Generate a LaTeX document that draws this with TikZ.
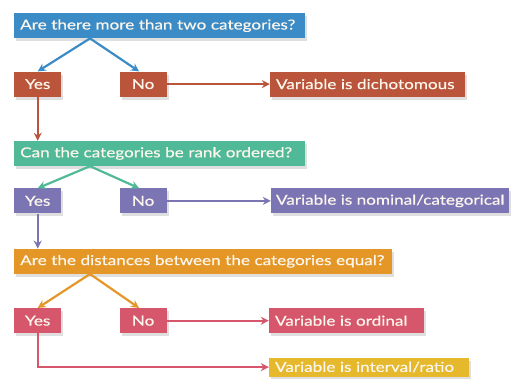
\documentclass[tikz,border=0pt]{standalone}
\usepackage{fontspec}
\setmainfont{Lato}[FakeStretch=1.25,FakeBold=0.5]
\usepackage{tikz}
\usetikzlibrary{arrows.meta,positioning,shadows}

\definecolor{qblue}{RGB}{58,139,198}
\definecolor{rust}{RGB}{186,85,60}
\definecolor{teal}{RGB}{80,185,152}
\definecolor{lilac}{RGB}{124,117,180}
\definecolor{amber}{RGB}{228,150,38}
\definecolor{rose}{RGB}{214,86,108}
\definecolor{gold}{RGB}{230,184,44}
\definecolor{cream}{RGB}{252,246,236}

\begin{document}
\begin{tikzpicture}[
  box/.style={anchor=north west, text=cream, inner xsep=6pt, inner ysep=0pt,
    minimum height=25pt, align=left, font=\fontsize{13.7}{15}\selectfont,
    drop shadow={shadow xshift=2pt, shadow yshift=-3pt, opacity=0.25}},
  ans/.style={box, minimum width=47pt, align=center},
  arr/.style={-{Stealth[length=8pt,width=8pt]}, line width=2.2pt},
  node distance=58pt
]
\useasboundingbox (0,0) rectangle (513pt,-379pt);
\node[box, fill=qblue, text width=279pt] (q1) at (14pt,-13pt) {Are there more than two categories?};
\node[ans, fill=rust, below=33pt of q1.south west, anchor=north west] (yes1) {Yes};
\node[ans, fill=rust, right=of yes1] (no1) {No};
\node[box, fill=rust, text width=183pt, right=103pt of no1.east, anchor=west] (dich) {Variable is dichotomous};

\node[box, fill=teal, text width=279pt, below=44pt of yes1.south west, anchor=north west] (q2) {Can the categories be rank ordered?};
\node[ans, fill=lilac, below=22pt of q2.south west, anchor=north west] (yes2) {Yes};
\node[ans, fill=lilac, right=of yes2] (no2) {No};
\node[box, fill=lilac, inner xsep=5pt, right=104pt of no2.east, anchor=west] (nom) {Variable is nominal/categorical};

\node[box, fill=amber, text width=366pt, below=35pt of yes2.south west, anchor=north west] (q3) {Are the distances between the categories equal?};
\node[ans, fill=rose, below=34pt of q3.south west, anchor=north west] (yes3) {Yes};
\node[ans, fill=rose, right=of yes3] (no3) {No};
\node[box, fill=rose, text width=143pt, right=102pt of no3.east, anchor=west] (ord) {Variable is ordinal};
\node[box, fill=gold, text width=188pt, minimum height=19pt, below=24pt of ord.south west, anchor=north west] (intv) {Variable is interval/ratio};

\draw[arr, qblue] ([xshift=76pt]q1.south west) -- (yes1.north);
\draw[arr, qblue] ([xshift=76pt]q1.south west) -- ([xshift=-4pt]no1.north);
\draw[arr, rust] (no1) -- (dich);
\draw[arr, rust] (yes1) -- (yes1 |- q2.north);

\draw[arr, teal] ([xshift=76pt]q2.south west) -- (yes2.north);
\draw[arr, teal] ([xshift=76pt]q2.south west) -- ([xshift=-4pt]no2.north);
\draw[arr, lilac] (no2) -- (nom);
\draw[arr, lilac] (yes2) -- (yes2 |- q3.north);

\draw[arr, amber] ([xshift=76pt]q3.south west) -- (yes3.north);
\draw[arr, amber] ([xshift=76pt]q3.south west) -- ([xshift=-4pt]no3.north);
\draw[arr, rose] (no3) -- (ord);
\draw[arr, rose] (yes3) |- (intv);
\end{tikzpicture}
\end{document}
